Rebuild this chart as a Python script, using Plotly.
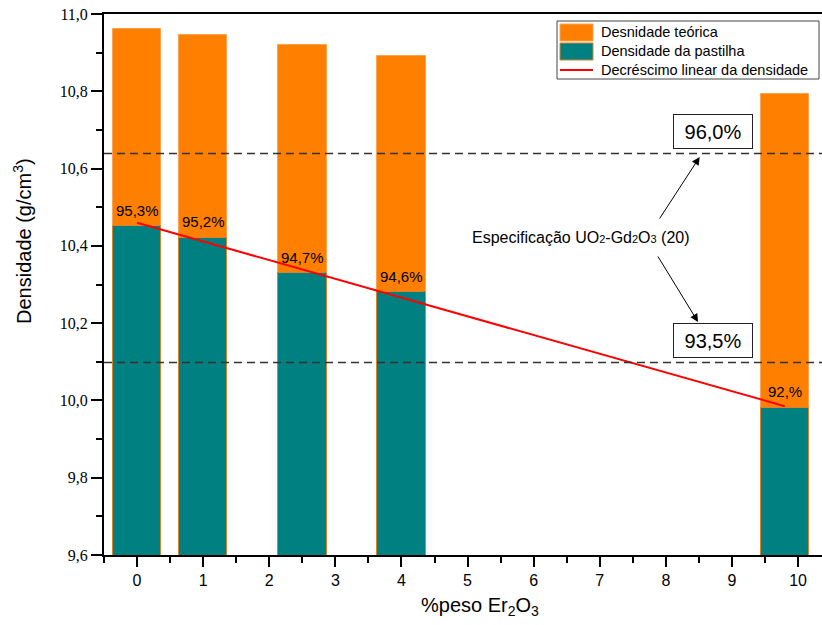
import plotly.graph_objects as go

# Er2O3 content (wt %) and densities (g/cm3)
er2o3 = [0, 1, 2.5, 4, 9.8]
dens_teorica = [10.961, 10.945, 10.919, 10.892, 10.792]
dens_pastilha = [10.451, 10.421, 10.329, 10.280, 9.981]
pct_labels = ["95,3%", "95,2%", "94,7%", "94,6%", "92,%"]

# linear decrease of pellet density
lin_x = [0, 9.8]
lin_y = [10.46, 9.985]

# specification limits (96,0% and 93,5%)
spec_levels = [10.639, 10.098]
spec_labels = ["96,0%", "93,5%"]

ORANGE = "#FF8000"
TEAL = "#008080"

W, H = 822, 625
ML, MR, MT, MB = 104, 0, 14, 70
PW, PH = W - ML - MR, H - MT - MB
PX_PER_UNIT = 66.1


def px(xp):
    return (xp - ML) / PW


def py(yp):
    return (H - MB - yp) / PH


fig = go.Figure()

fig.add_trace(go.Bar(
    x=er2o3, y=dens_teorica, width=0.735, name="Desnidade teórica",
    marker=dict(color=ORANGE, line=dict(color="#FFA24D", width=1)),
    showlegend=False,
))
fig.add_trace(go.Bar(
    x=er2o3, y=dens_pastilha, width=0.735, name="Densidade da pastilha",
    marker=dict(color=TEAL, line=dict(color="#D9822B", width=1)),
    showlegend=False,
))
fig.add_trace(go.Scatter(
    x=lin_x, y=lin_y, mode="lines", name="Decréscimo linear da densidade",
    line=dict(color="#FF0000", width=2), showlegend=False,
))

annotations = []
shapes = []

# percentage labels above pellet bars
for xv, yv, t in zip(er2o3, dens_pastilha, pct_labels):
    annotations.append(dict(
        x=xv, y=yv, xref="x", yref="y", text=t, showarrow=False,
        xanchor="center", yanchor="middle", yshift=16,
        font=dict(family="Liberation Sans", size=15, color="black"),
    ))

# specification dashed lines
for lvl in spec_levels:
    shapes.append(dict(
        type="line", xref="paper", yref="y", x0=0, x1=1, y0=lvl, y1=lvl,
        line=dict(color="#333333", width=1.5, dash="8px,5px"),
    ))

# boxed limit labels
box_x = 8.709
for yv, t in zip([10.695, 10.154], spec_labels):
    annotations.append(dict(
        x=box_x, y=yv, xref="x", yref="y", text=t, showarrow=False,
        xanchor="center", yanchor="middle",
        width=76, height=31, bordercolor="#222222", borderwidth=1,
        bgcolor="white",
        font=dict(family="Liberation Sans", size=20, color="black"),
    ))

# specification text with arrows
annotations.append(dict(
    x=6.722, y=10.422, xref="x", yref="y", showarrow=False,
    xanchor="center", yanchor="middle",
    text="Especificação UO<span style='font-size:11px'>2</span>-Gd"
         "<span style='font-size:11px'>2</span>O"
         "<span style='font-size:11px'>3</span> (20)",
    font=dict(family="Liberation Sans", size=16, color="black"),
))
for tip_x, tip_y, ax, ay in [(8.512, 10.630, -41, 63), (8.487, 10.203, -41, -67)]:
    annotations.append(dict(
        x=tip_x, y=tip_y, xref="x", yref="y", ax=ax, ay=ay,
        text="", showarrow=True, arrowhead=2, arrowsize=1.6,
        arrowwidth=1, arrowcolor="black",
    ))

# legend box
shapes.append(dict(type="rect", xref="paper", yref="paper",
                   x0=px(557), x1=px(819), y0=py(79), y1=py(21),
                   line=dict(color="#444444", width=1), fillcolor="white",
                   layer="above"))
shapes.append(dict(type="rect", xref="paper", yref="paper",
                   x0=px(560), x1=px(593), y0=py(41), y1=py(24),
                   line=dict(color="#FFA24D", width=1), fillcolor=ORANGE,
                   layer="above"))
shapes.append(dict(type="rect", xref="paper", yref="paper",
                   x0=px(560), x1=px(593), y0=py(60), y1=py(43),
                   line=dict(color="#D9822B", width=1), fillcolor=TEAL,
                   layer="above"))
shapes.append(dict(type="line", xref="paper", yref="paper",
                   x0=px(560), x1=px(593), y0=py(70), y1=py(70),
                   line=dict(color="#FF0000", width=2), layer="above"))
for yp, t in [(32, "Desnidade teórica"), (51, "Densidade da pastilha"),
              (70, "Decréscimo linear da densidade")]:
    annotations.append(dict(
        x=px(599), y=py(yp), xref="paper", yref="paper", text=t,
        showarrow=False, xanchor="left", yanchor="middle",
        font=dict(family="Liberation Sans", size=14.5, color="black"),
    ))

# axis titles
annotations.append(dict(
    x=px(22), y=py(241), xref="paper", yref="paper", textangle=-90,
    xanchor="center", yanchor="middle",
    text="Densidade (g/cm<sup>3</sup>)", showarrow=False,
    font=dict(family="Liberation Sans", size=20, color="black"),
))
annotations.append(dict(
    x=px(480), y=py(606), xref="paper", yref="paper",
    xanchor="center", yanchor="middle",
    text="%peso Er<sub>2</sub>O<sub>3</sub>", showarrow=False,
    font=dict(family="Liberation Sans", size=20, color="black"),
))

fig.update_layout(
    width=W, height=H,
    margin=dict(l=ML, r=MR, t=MT, b=MB),
    paper_bgcolor="white", plot_bgcolor="white",
    barmode="overlay", bargap=0,
    separators=",.",
    shapes=shapes, annotations=annotations,
    showlegend=False,
)
fig.update_xaxes(
    range=[-0.5, -0.5 + PW / PX_PER_UNIT],
    tick0=0, dtick=1, ticks="outside", ticklen=10, tickwidth=1.5,
    tickcolor="black",
    minor=dict(dtick=0.5, ticks="outside", ticklen=6, tickwidth=1.5,
               tickcolor="black"),
    showline=True, linecolor="black", linewidth=2, mirror=True,
    showgrid=False, zeroline=False,
    tickfont=dict(family="Liberation Sans", size=16, color="black"),
)
fig.update_yaxes(
    range=[9.6, 11.0], tick0=9.6, dtick=0.2, tickformat=".1f",
    ticks="outside", ticklen=11, tickwidth=1.5, tickcolor="black",
    minor=dict(dtick=0.1, ticks="outside", ticklen=6, tickwidth=1.5,
               tickcolor="black"),
    showline=True, linecolor="black", linewidth=2, mirror=False,
    showgrid=False, zeroline=False,
    tickfont=dict(family="Liberation Serif", size=16, color="black"),
)

fig.write_html("out.html")
